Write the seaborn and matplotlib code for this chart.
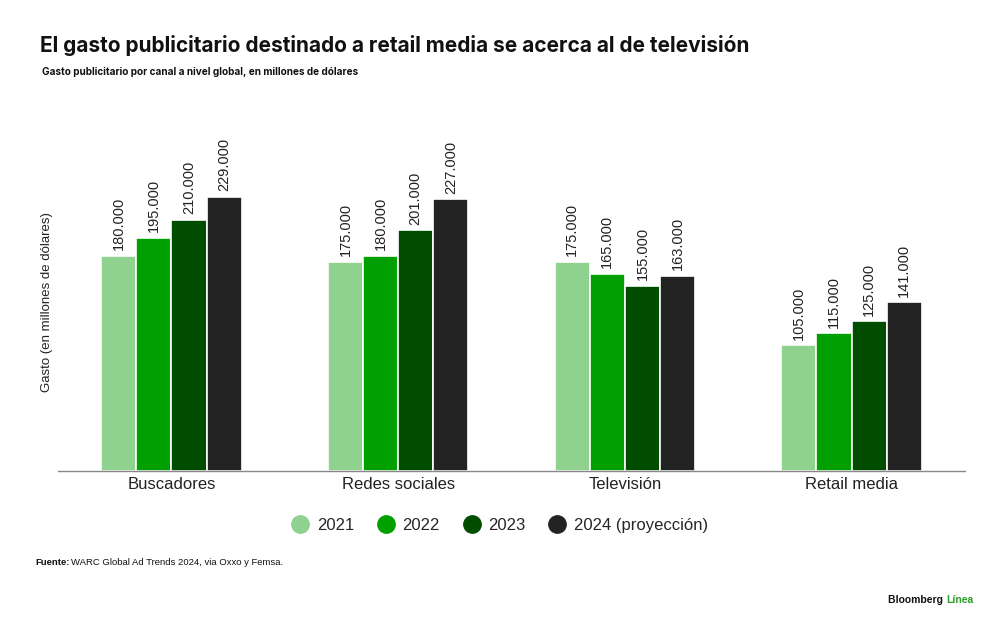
import pandas as pd
import numpy as np
import matplotlib
matplotlib.use('Agg')
import matplotlib.pyplot as plt
import seaborn as sns
from matplotlib.lines import Line2D

canales = ['Buscadores', 'Redes sociales', 'Televisión', 'Retail media']
anios = ['2021', '2022', '2023', '2024 (proyección)']
gasto_2021 = [180000, 175000, 175000, 105000]
gasto_2022 = [195000, 180000, 165000, 115000]
gasto_2023 = [210000, 201000, 155000, 125000]
gasto_2024 = [229000, 227000, 163000, 141000]
colores = ['#8fd18f', '#00a000', '#004d00', '#232323']

rows = []
for anio, vals in zip(anios, [gasto_2021, gasto_2022, gasto_2023, gasto_2024]):
    for canal, v in zip(canales, vals):
        rows.append({'canal': canal, 'anio': anio, 'gasto': v})
df = pd.DataFrame(rows)

sns.set_theme(style='white')
plt.rcParams['font.family'] = ['Liberation Sans', 'DejaVu Sans']

fig = plt.figure(figsize=(10, 6.26), dpi=100)
ax = fig.add_axes([0.058, 0.2476, 0.907, 0.5735])

sns.barplot(data=df, x='canal', y='gasto', hue='anio', palette=colores,
            width=0.62, edgecolor='white', linewidth=1.2, saturation=1,
            legend=False, ax=ax)

for cont in ax.containers:
    labels = [f'{int(b.get_height()):,}'.replace(',', '.') for b in cont]
    ax.bar_label(cont, labels=labels, rotation=90, padding=4, fontsize=10.5,
                 color='#222222')

ax.set_xlim(-0.5, 3.5)
ax.set_ylim(0, 300000)
ax.set_yticks([])
ax.set_xlabel('')
ax.set_ylabel('Gasto (en millones de dólares)', fontsize=9.5, color='#222222')
ax.yaxis.set_label_coords(-0.005, 0.47)
ax.tick_params(axis='x', length=0, labelsize=12, colors='#222222', pad=4)
for s in ['top', 'right', 'left']:
    ax.spines[s].set_visible(False)
ax.spines['bottom'].set_color('#888888')
ax.spines['bottom'].set_linewidth(1)

handles = [Line2D([0], [0], marker='o', linestyle='', markersize=12.5,
                  markerfacecolor=c, markeredgecolor=c) for c in colores]
fig.legend(handles, anios, loc='center', bbox_to_anchor=(0.5, 0.161), ncol=4,
           frameon=False, fontsize=12, handletextpad=0.5, columnspacing=1.4,
           handlelength=1.0)

fig.text(0.04, 0.928, 'El gasto publicitario destinado a retail media se acerca al de televisión',
         fontsize=15, fontweight='bold', family=['Inter', 'DejaVu Sans'],
         color='#111111', va='center')
fig.text(0.042, 0.885, 'Gasto publicitario por canal a nivel global, en millones de dólares',
         fontsize=7.2, fontweight='bold', family=['Inter', 'DejaVu Sans'],
         color='#111111', va='center')

fig.text(0.035, 0.101, 'Fuente:', fontsize=6.8, fontweight='bold',
             color='#111111', va='center')
fig.text(0.071, 0.101, 'WARC Global Ad Trends 2024, via Oxxo y Femsa.',
         fontsize=6.8, color='#111111', va='center')

fig.text(0.946, 0.041, 'Bloomberg ', fontsize=7.5, fontweight='bold',
         color='#111111', va='center', ha='right')
fig.text(0.946, 0.041, 'Línea', fontsize=7.5, fontweight='bold',
         color='#2a9d2a', va='center', ha='left')

fig.savefig('out.png', dpi=100)
